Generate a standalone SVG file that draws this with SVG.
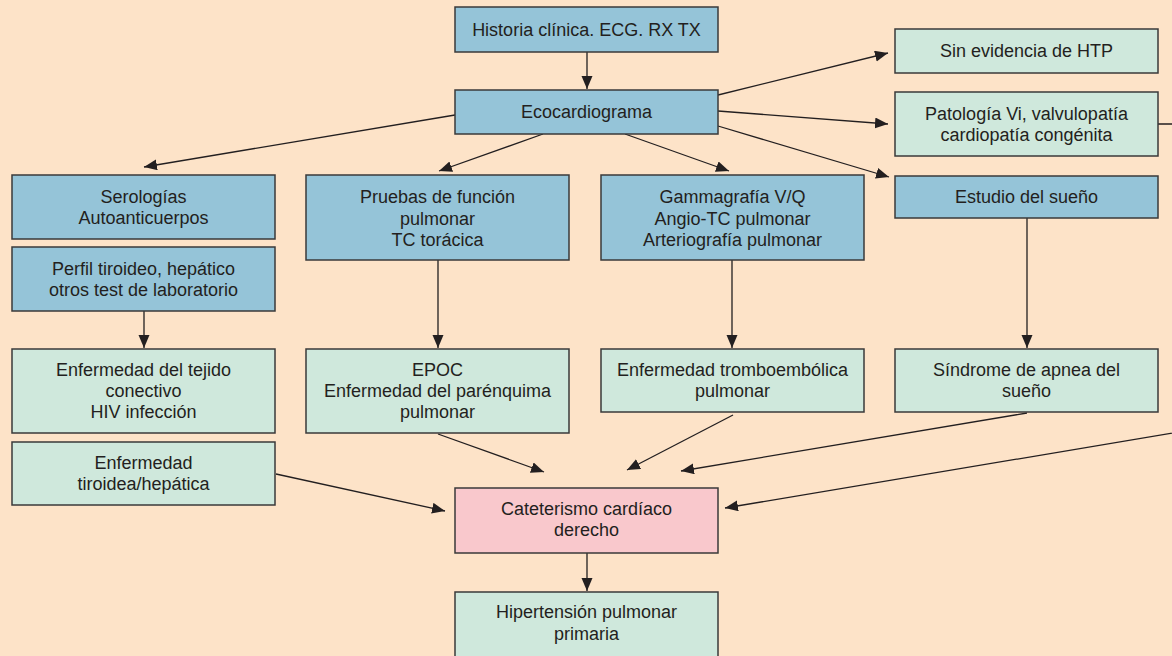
<svg xmlns="http://www.w3.org/2000/svg" width="1172" height="656" viewBox="0 0 1172 656">
<defs>
<marker id="ah" markerUnits="userSpaceOnUse" markerWidth="14" markerHeight="12" refX="13" refY="5.5" orient="auto">
<path d="M0,0 L13,5.5 L0,11 z" fill="#231f20"/>
</marker>
<style>
.b{fill:#95c4d8;stroke:#3a3a3a;stroke-width:1.5}
.g{fill:#cfe8dc;stroke:#3a3a3a;stroke-width:1.5}
.p{fill:#f9c8cc;stroke:#3a3a3a;stroke-width:1.5}
text{font-family:"Liberation Sans",Arial,sans-serif;font-size:18px;fill:#231f20;text-anchor:middle}
#connectors path{fill:none;stroke:#231f20;stroke-width:1.3;marker-end:url(#ah)}
</style>
</defs>
<rect width="1172" height="656" fill="#fde3c8"/>
<g id="connectors">
<path d="M587,52 L587,89"/>
<path d="M718,95 L888,53"/>
<path d="M718,111 L888,124"/>
<path d="M718,126 L889,177"/>
<path d="M455,115 L144,167"/>
<path d="M543,134 L439,171"/>
<path d="M625,134 L729,171"/>
<path d="M144,311 L144,348"/>
<path d="M438,260 L438,348"/>
<path d="M732,260 L732,348"/>
<path d="M1027,218 L1027,348"/>
<path d="M438,434 L544,472"/>
<path d="M733,415 L627,470"/>
<path d="M1027,413 L681,471"/>
<path d="M1158,124 L1185,124 L1185,431 L725,508"/>
<path d="M276,474 L445,511"/>
<path d="M587,553 L587,591"/>
</g>
<g id="historia"><rect class="b" x="455" y="7" width="263" height="45"/><text x="586.5" y="35.5">Historia clínica. ECG. RX TX</text></g>
<g id="eco"><rect class="b" x="455" y="90" width="263" height="44"/><text x="586.5" y="118">Ecocardiograma</text></g>
<g id="sinhtp"><rect class="g" x="895" y="29" width="263" height="44"/><text x="1026.5" y="57">Sin evidencia de HTP</text></g>
<g id="patologia"><rect class="g" x="895" y="92" width="263" height="64"/><text x="1026.5" y="120">Patología Vi, valvulopatía</text><text x="1026.5" y="141">cardiopatía congénita</text></g>
<g id="estudio"><rect class="b" x="895" y="176" width="263" height="42"/><text x="1026.5" y="203">Estudio del sueño</text></g>
<g id="serologias"><rect class="b" x="12" y="175" width="263" height="64"/><text x="143.5" y="203">Serologías</text><text x="143.5" y="224">Autoanticuerpos</text></g>
<g id="perfil"><rect class="b" x="12" y="247" width="263" height="64"/><text x="143.5" y="274.5">Perfil tiroideo, hepático</text><text x="143.5" y="295.5">otros test de laboratorio</text></g>
<g id="pruebas"><rect class="b" x="306" y="175" width="263" height="85"/><text x="437.5" y="203">Pruebas de función</text><text x="437.5" y="224.5">pulmonar</text><text x="437.5" y="246">TC torácica</text></g>
<g id="gamma"><rect class="b" x="601" y="175" width="263" height="85"/><text x="732.5" y="203">Gammagrafía V/Q</text><text x="732.5" y="224.5">Angio-TC pulmonar</text><text x="732.5" y="246">Arteriografía pulmonar</text></g>
<g id="tejido"><rect class="g" x="12" y="349" width="263" height="84"/><text x="143.5" y="376">Enfermedad del tejido</text><text x="143.5" y="397">conectivo</text><text x="143.5" y="418">HIV infección</text></g>
<g id="tiroidea"><rect class="g" x="12" y="442" width="263" height="63"/><text x="143.5" y="469">Enfermedad</text><text x="143.5" y="490">tiroidea/hepática</text></g>
<g id="epoc"><rect class="g" x="306" y="349" width="263" height="84"/><text x="437.5" y="376">EPOC</text><text x="437.5" y="397">Enfermedad del parénquima</text><text x="437.5" y="418">pulmonar</text></g>
<g id="tromb"><rect class="g" x="601" y="349" width="263" height="63"/><text x="732.5" y="376">Enfermedad tromboembólica</text><text x="732.5" y="397">pulmonar</text></g>
<g id="apnea"><rect class="g" x="895" y="349" width="263" height="63"/><text x="1026.5" y="376">Síndrome de apnea del</text><text x="1026.5" y="397">sueño</text></g>
<g id="cateterismo"><rect class="p" x="455" y="488" width="263" height="65"/><text x="586.5" y="515">Cateterismo cardíaco</text><text x="586.5" y="536">derecho</text></g>
<g id="hipertension"><rect class="g" x="455" y="592" width="263" height="72"/><text x="586.5" y="618">Hipertensión pulmonar</text><text x="586.5" y="640">primaria</text></g>
</svg>
